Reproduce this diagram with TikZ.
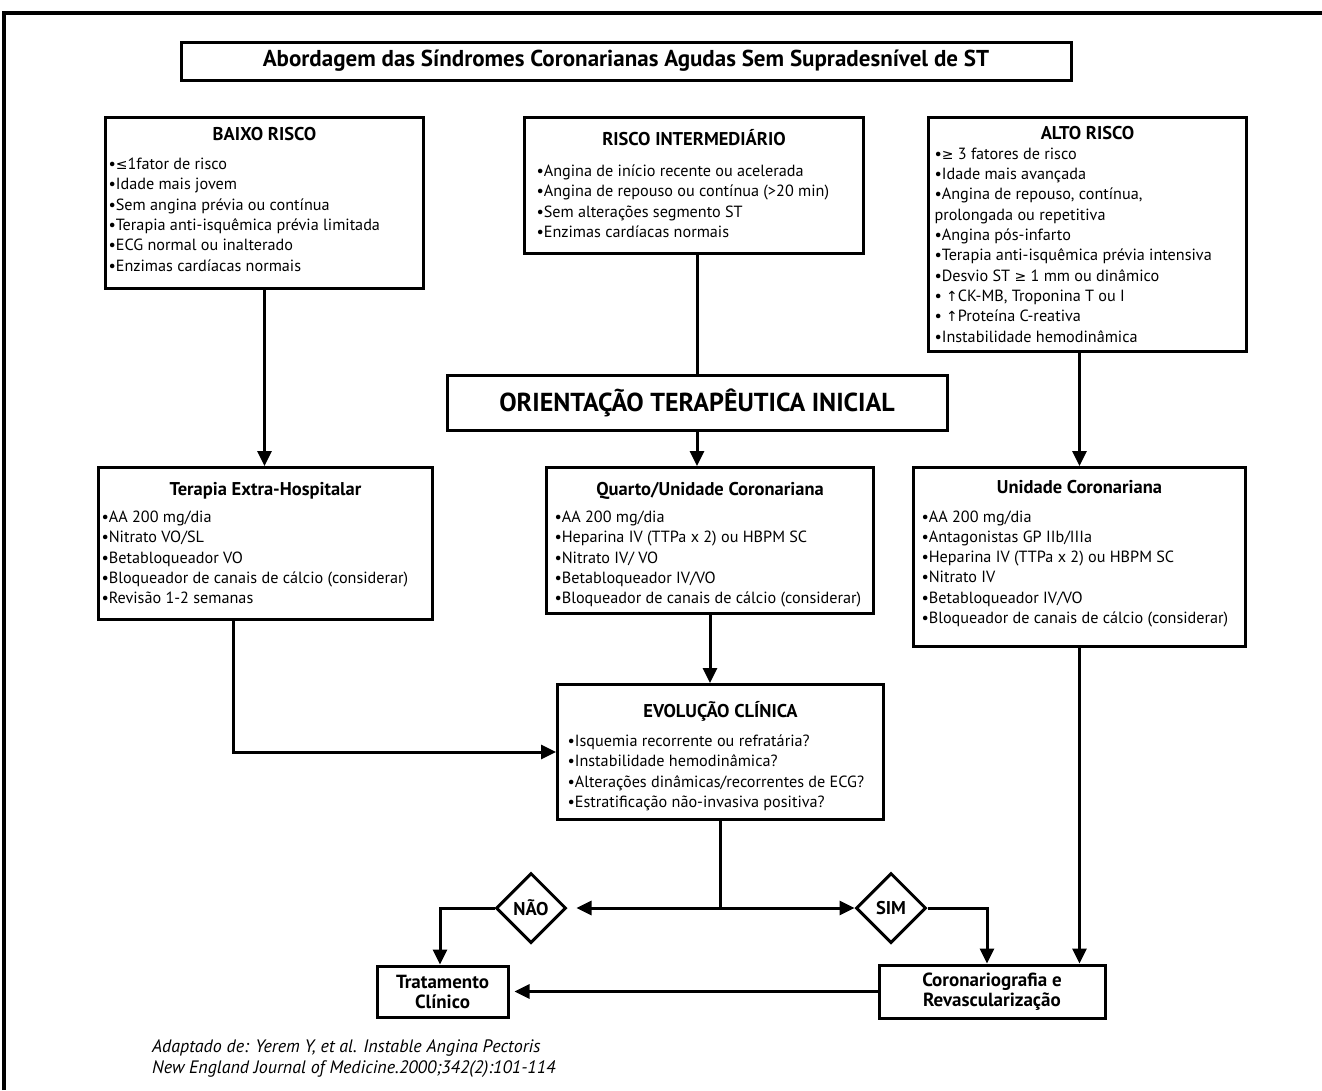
\documentclass[tikz,border=0pt]{standalone}
\usepackage{fontspec}
\setmainfont{PT Sans}
\newfontfamily\dejavufont{DejaVu Sans}
\usetikzlibrary{arrows.meta,shapes.geometric,calc}

\newcommand{\itemsize}{\fontsize{16.2}{20.3}\selectfont}
\newcommand{\headsize}{\fontsize{18.5}{20}\selectfont\bfseries}
\newcommand{\symch}[1]{{\dejavufont\fontsize{14}{16}\selectfont #1}}
% width, height, title baseline, extra gap, title, items
\newcommand{\riskbody}[6]{\parbox[c][#2][t]{#1}{{\centering\headsize\rule{0pt}{#3}#5\par}\vspace{#4}\raggedright #6}}

\begin{document}
\begin{tikzpicture}[x=1pt,y=-1pt,
	box/.style={draw, line width=3pt, inner sep=0pt},
	riskbox/.style={box, anchor=north west, inner xsep=#1, font=\itemsize},
	riskbox/.default=6pt,
	decision/.style={diamond, draw, line width=3pt, minimum width=70pt, minimum height=70pt, inner sep=0pt, font=\headsize},
	endbox/.style={box, align=center, font=\fontsize{19}{20}\selectfont\bfseries},
	plainline/.style={line width=3pt},
	arrowline/.style={line width=3pt, -{Triangle[length=15pt,width=14pt]}}]
	\useasboundingbox (0,0) rectangle (1322,1090);

	% frame
	\draw[line width=4pt] (4,1090) -- (4,13) -- (1322,13);

	% title
	\node[box, minimum width=890pt, minimum height=38pt, font=\fontsize{23}{24}\selectfont\bfseries] (titulo) at (626,61) {Abordagem das Síndromes Coronarianas Agudas Sem Supradesnível de ST};

	% risk groups
	\node[riskbox=3pt] (baixo) at (104,116) {\riskbody{312pt}{171pt}{22.5pt}{9.2pt}{BAIXO RISCO}{%
		•\symch{≤}1fator de risco\\
		•Idade mais jovem\\
		•Sem angina prévia ou contínua\\
		•Terapia anti-isquêmica prévia limitada\\
		•ECG normal ou inalterado\\
		•Enzimas cardíacas normais}};
	\node[riskbox=12pt] (inter) at (523,116) {\riskbody{315pt}{136pt}{27.5pt}{11.2pt}{RISCO INTERMEDIÁRIO}{%
		•Angina de início recente ou acelerada\\
		•Angina de repouso ou contínua (>20 min)\\
		•Sem alterações segmento ST\\
		•Enzimas cardíacas normais}};
	\node[riskbox=6pt] (alto) at (927,116) {\riskbody{306pt}{234pt}{21.5pt}{0pt}{ALTO RISCO}{%
		•\symch{≥} 3 fatores de risco\\
		•Idade mais avançada\\
		•Angina de repouso, contínua,\\
		prolongada ou repetitiva\\
		•Angina pós-infarto\\
		•Terapia anti-isquêmica prévia intensiva\\
		•Desvio ST \symch{≥} 1 mm ou dinâmico\\
		• \symch{↑}CK-MB, Troponina T ou I\\
		• \symch{↑}Proteína C-reativa\\
		•Instabilidade hemodinâmica}};

	\node[box, minimum width=500pt, minimum height=55pt, font=\fontsize{26}{28}\selectfont\bfseries] (orient) at (697,402.5) {ORIENTAÇÃO TERAPÊUTICA INICIAL};

	% treatment
	\node[riskbox=3pt] (terapia) at (97,466) {\riskbody{328pt}{152pt}{27.5pt}{7.2pt}{Terapia Extra-Hospitalar}{%
		•AA 200 mg/dia\\
		•Nitrato VO/SL\\
		•Betabloqueador VO\\
		•Bloqueador de canais de cálcio (considerar)\\
		•Revisão 1-2 semanas}};
	\node[riskbox=8pt] (quarto) at (545,466) {\riskbody{311pt}{146pt}{27.5pt}{7.2pt}{Quarto/Unidade Coronariana}{%
		•AA 200 mg/dia\\
		•Heparina IV (TTPa x 2) ou HBPM SC\\
		•Nitrato IV/ VO\\
		•Betabloqueador IV/VO\\
		•Bloqueador de canais de cálcio (considerar)}};
	\node[riskbox=8pt] (unidade) at (912,466) {\riskbody{316pt}{179pt}{25.5pt}{8.7pt}{Unidade Coronariana}{%
		•AA 200 mg/dia\\
		•Antagonistas GP IIb/IIIa\\
		•Heparina IV (TTPa x 2) ou HBPM SC\\
		•Nitrato IV\\
		•Betabloqueador IV/VO\\
		•Bloqueador de canais de cálcio (considerar)}};

	\node[riskbox=10pt] (evolucao) at (556,683) {\riskbody{306pt}{135pt}{32.5pt}{9.2pt}{EVOLUÇÃO CLÍNICA}{%
		•Isquemia recorrente ou refratária?\\
		•Instabilidade hemodinâmica?\\
		•Alterações dinâmicas/recorrentes de ECG?\\
		•Estratificação não-invasiva positiva?}};

	% decisions and outcomes
	\node[decision] (nao) at (531,908) {NÃO};
	\node[decision] (sim) at (891,908) {SIM};
	\node[endbox, minimum width=131pt, minimum height=51pt] (trat) at (442.5,991.5) {Tratamento\\Clínico};
	\node[endbox, minimum width=226pt, minimum height=53pt] (coro) at (992,991.5) {Coronariografia e\\Revascularização};

	\node[anchor=north west, inner sep=0pt, align=left, font=\fontsize{18}{21}\selectfont\itshape] (fonte) at (152,1039) {Adaptado de: Yerem Y, et al. Instable Angina Pectoris\\New England Journal of Medicine.2000;342(2):101-114};

	% connectors
	\draw[arrowline] (baixo.south) -- (baixo.south |- terapia.north);
	\draw[plainline] (orient.north |- inter.south) -- (orient.north);
	\draw[arrowline] (orient.south) -- (orient.south |- quarto.north);
	\draw[arrowline] (unidade.north |- alto.south) -- (unidade.north);
	\draw[arrowline] (quarto.south) -- (quarto.south |- evolucao.north);
	\draw[arrowline] ([xshift=-32pt]terapia.south) |- (evolucao.west);

	\coordinate (split) at (evolucao.south |- nao.center);
	\draw[plainline] (evolucao.south) -- (split);
	\draw[arrowline] (split) -- ([xshift=9pt]nao.east);
	\draw[arrowline] (split) -- (sim.west);
	\draw[arrowline] (nao.west) -| ([xshift=-2.5pt]trat.north);
	\draw[arrowline] (sim.east) -| ([xshift=-5pt]coro.north);
	\draw[arrowline] (unidade.south) -- (unidade.south |- coro.north);
	\draw[arrowline] (coro.west) -- ([xshift=5pt]trat.east);
\end{tikzpicture}
\end{document}
